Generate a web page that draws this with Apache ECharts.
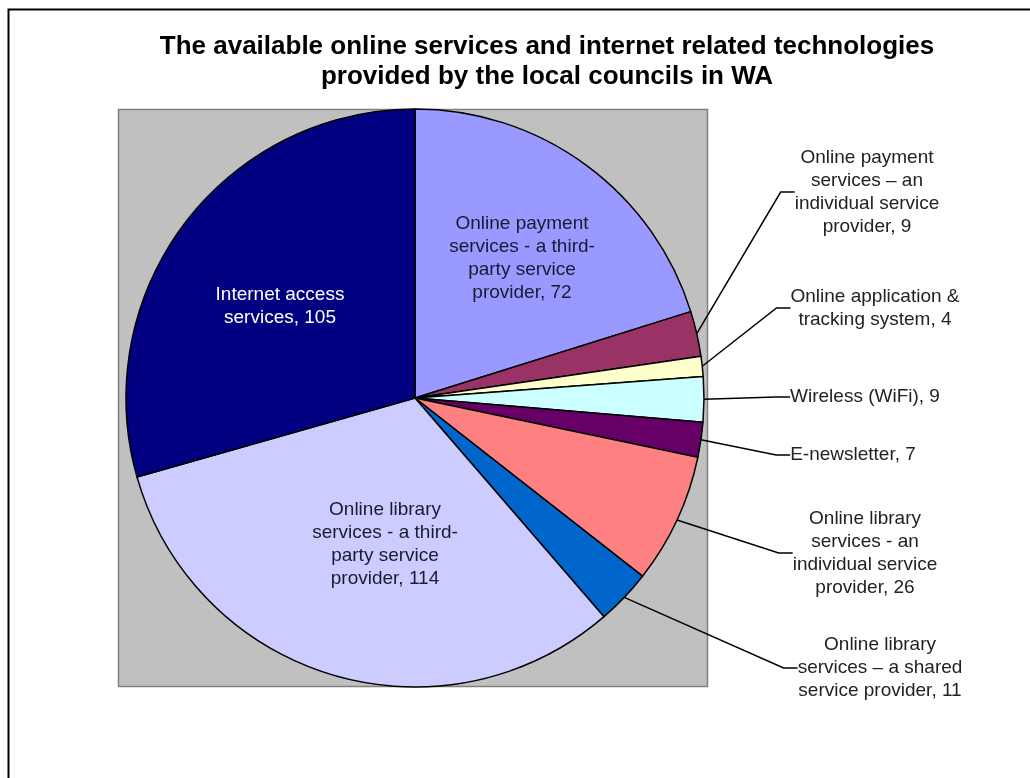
<!DOCTYPE html>
<html>
<head>
<meta charset="utf-8">
<script src="https://cdn.jsdelivr.net/npm/echarts@6/dist/echarts.min.js"></script>
<style>
html,body{margin:0;padding:0;background:#fff;}
#chart{width:1030px;height:778px;}
</style>
</head>
<body>
<div id="chart"></div>
<script>
// ---- data ----
var categories = [
  'Online payment\nservices - a third-\nparty service\nprovider',
  'Online payment\nservices \u2013 an\nindividual service\nprovider',
  'Online application &\ntracking system',
  'Wireless (WiFi)',
  'E-newsletter',
  'Online library\nservices - an\nindividual service\nprovider',
  'Online library\nservices \u2013 a shared\nservice provider',
  'Online library\nservices - a third-\nparty service\nprovider',
  'Internet access\nservices'
];
var values = [72, 9, 4, 9, 7, 26, 11, 114, 105];
var titleText = 'The available online services and internet related technologies\nprovided by the local councils in WA';

// ---- styles / layout ----
var colors = ['#9999FF', '#993366', '#FFFFCC', '#CCFFFF', '#660066', '#FF8080', '#0066CC', '#CCCCFF', '#000080'];
var inside = [true, false, false, false, false, false, false, true, true];
var labelColors = ['#1a1a33', '#222', '#222', '#222', '#222', '#222', '#222', '#1a1a33', '#ffffff'];
var labelPos = [[522, 258], [867, 192], [875, 308], [865, 397], [853, 455], [865, 553], [880, 668], [385, 544], [280, 306]];

var data = categories.map(function (c, i) {
  return {
    name: c,
    value: values[i],
    itemStyle: { color: colors[i] },
    label: { position: inside[i] ? 'inside' : 'outside', color: labelColors[i] },
    labelLine: { show: !inside[i] }
  };
});

var chart = echarts.init(document.getElementById('chart'), null, { renderer: 'canvas' });
chart.setOption({
  backgroundColor: '#ffffff',
  animation: false,
  title: {
    text: titleText,
    left: 542,
    top: 27,
    textAlign: 'center',
    textStyle: { fontFamily: 'Liberation Sans, Arial, sans-serif', fontSize: 26, fontWeight: 'bold', color: '#000', lineHeight: 30 }
  },
  graphic: [
    { type: 'rect', z: -10, shape: { x: 8.5, y: 9.5, width: 1100, height: 900 }, style: { fill: '#fff', stroke: '#000', lineWidth: 2 } },
    { type: 'rect', z: -5, shape: { x: 118.5, y: 109.5, width: 589, height: 577 }, style: { fill: '#C0C0C0', stroke: '#808080', lineWidth: 1.5 } }
  ],
  series: [{
    type: 'pie',
    center: [415, 398],
    radius: [0, 289],
    startAngle: 90,
    clockwise: true,
    avoidLabelOverlap: false,
    data: data,
    itemStyle: { borderColor: '#000', borderWidth: 1.5 },
    emphasis: { disabled: true },
    label: {
      formatter: function (p) { return p.name + ', ' + p.value; },
      fontFamily: 'Liberation Sans, Arial, sans-serif',
      fontSize: 19,
      lineHeight: 23,
      align: 'center'
    },
    labelLine: {
      length: 20,
      length2: 14,
      lineStyle: { color: '#000', width: 1.5 }
    },
    labelLayout: function (p) {
      var pos = labelPos[p.dataIndex];
      return { x: pos[0], y: pos[1], align: 'center', verticalAlign: 'middle' };
    }
  }]
});
</script>
</body>
</html>
